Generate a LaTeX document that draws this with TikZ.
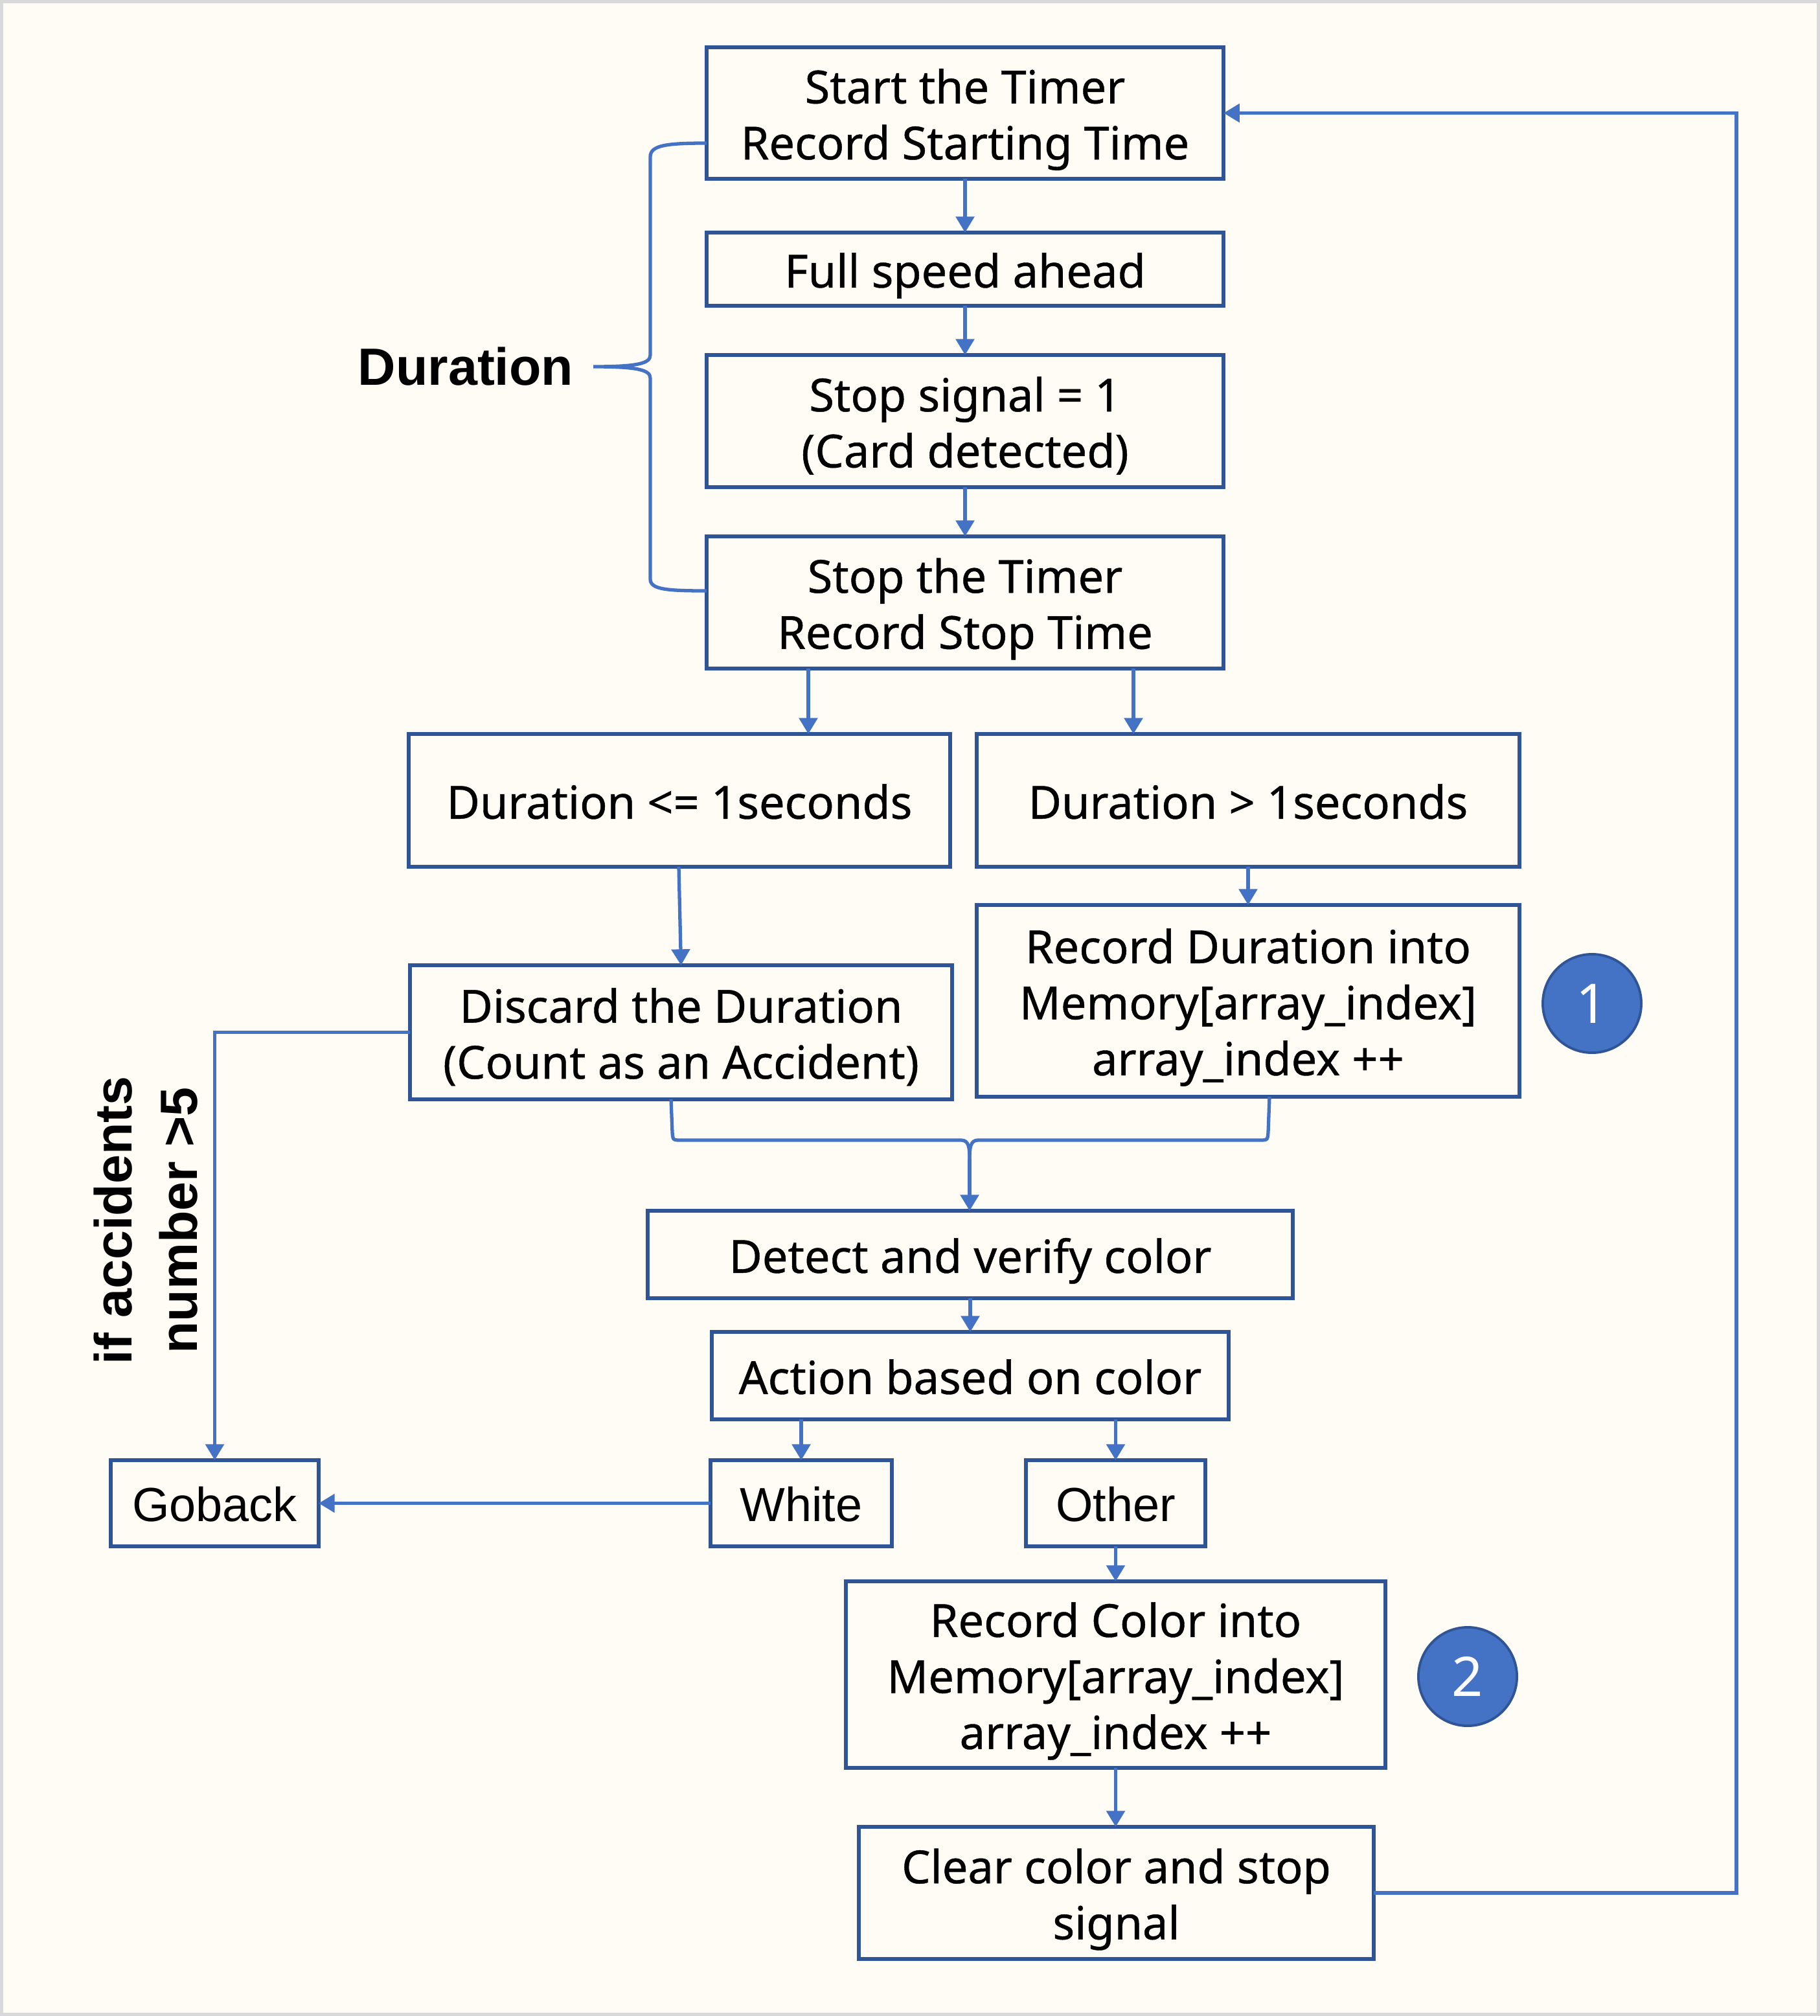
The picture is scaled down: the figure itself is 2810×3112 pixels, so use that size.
\documentclass[tikz,border=0pt]{standalone}
\usepackage{fontspec}
\setmainfont{Noto Sans}
\newfontfamily\boxfont{Noto Sans}[FakeBold=0.6]
\newfontfamily\arialfont{Liberation Sans}
\usetikzlibrary{arrows.meta,calc}
\definecolor{boxblue}{HTML}{2F5597}
\definecolor{linkblue}{HTML}{4472C4}
\definecolor{bgcream}{HTML}{FFFCF5}
\definecolor{framegray}{HTML}{D9D9D9}
\newcommand\tstr{\rule{0pt}{23.5pt}}
\newcommand\bstr{\rule[-7.4pt]{0pt}{7.4pt}}
\begin{document}
\begin{tikzpicture}[x=0.01cm,y=-0.01cm,
  stepbox/.style={draw=boxblue,line width=1.8pt,fill=bgcream,inner sep=0pt,outer sep=0pt,align=center,font=\boxfont\fontsize{20}{24.6}\selectfont},
  arbox/.style={stepbox,font=\arialfont\fontsize{21}{25}\selectfont},
  link/.style={draw=linkblue,line width=1.5pt},
  arrowlink/.style={link,-{Triangle[width=8pt,length=7pt]}},
  badge/.style={circle,draw=boxblue,line width=1.1pt,fill=linkblue,text=white,minimum size=1.52cm,inner sep=0pt,font=\fontsize{24}{24}\selectfont}]
\fill[framegray] (0,0) rectangle (2810,3112);
\fill[bgcream] (5,5) rectangle (2805,3107);
\useasboundingbox (0,0) rectangle (2810,3112);

% boxes
\node[stepbox,minimum width=7.98cm,minimum height=2.03cm] (start) at (1490,174.5) {\tstr Start the Timer\\Record Starting Time\bstr};
\node[stepbox,minimum width=7.98cm,minimum height=1.13cm] (full) at (1490,415.5) {\tstr Full speed ahead\bstr};
\node[stepbox,minimum width=7.98cm,minimum height=2.04cm] (stopsig) at (1490,650) {\tstr Stop signal = 1\\(Card detected)\bstr};
\node[stepbox,minimum width=7.98cm,minimum height=2.04cm] (stoptimer) at (1490,930) {\tstr Stop the Timer\\Record Stop Time\bstr};
\node[stepbox,minimum width=8.36cm,minimum height=2.05cm] (le) at (1049,1235.5) {\tstr Duration <= 1seconds\bstr};
\node[stepbox,minimum width=8.38cm,minimum height=2.05cm] (gt) at (1927,1235.5) {\tstr Duration > 1seconds\bstr};
\node[stepbox,minimum width=8.38cm,minimum height=2.96cm] (recdur) at (1927,1545) {\tstr Record Duration into\\Memory[array\_index]\\array\_index ++\bstr};
\node[stepbox,minimum width=8.37cm,minimum height=2.07cm] (discard) at (1051.5,1593.5) {\tstr Discard the Duration\\(Count as an Accident)\bstr};
\node[stepbox,minimum width=9.96cm,minimum height=1.35cm] (detect) at (1498,1936.5) {\tstr Detect and verify color\bstr};
\node[stepbox,minimum width=7.98cm,minimum height=1.35cm] (action) at (1498,2123.5) {\tstr Action based on color\bstr};
\node[arbox,minimum width=3.21cm,minimum height=1.33cm] (goback) at (331.5,2320.5) {\tstr Goback\bstr};
\node[arbox,minimum width=2.80cm,minimum height=1.33cm] (white) at (1237,2320.5) {\tstr White\bstr};
\node[arbox,minimum width=2.77cm,minimum height=1.33cm] (other) at (1722.5,2320.5) {\tstr Other\bstr};
\node[stepbox,minimum width=8.33cm,minimum height=2.88cm] (reccol) at (1722.5,2585) {\tstr Record Color into\\Memory[array\_index]\\array\_index ++\bstr};
\node[stepbox,minimum width=7.95cm,minimum height=2.04cm] (clear) at (1723.5,2922) {\tstr Clear color and stop\\signal\bstr};

% badges
\node[badge] (b1) at (2458,1549) {1};
\node[badge] (b2) at (2266,2588) {2};

% labels
\node[font=\arialfont\bfseries\fontsize{23}{23}\selectfont,inner sep=0pt] (durlbl) at (719,566) {Duration};
\node[rotate=90,align=center,inner sep=0pt,font=\arialfont\bfseries\fontsize{23}{28.5}\selectfont] (acc) at (225,1884) {if accidents\\number >5};

% brace
\coordinate (bt) at (916,566);
\draw[link] ($(start.west)+(0,46.5)$) .. controls (1030,221) and (1004,224) .. (1004,242) -- (1004,548) .. controls (1004,561) and (985,566) .. (bt) .. controls (985,566) and (1004,571) .. (1004,584) -- (1004,894) .. controls (1004,910) and (1030,912) .. ($(stoptimer.west)+(0,-18)$);

% main chain
\draw[arrowlink] (start) -- (full);
\draw[arrowlink] (full) -- (stopsig);
\draw[arrowlink] (stopsig) -- (stoptimer);
\draw[arrowlink] ($(stoptimer.south)+(-242,0)$) coordinate (sa) -- (sa |- le.north);
\draw[arrowlink] ($(stoptimer.south)+(260,0)$) coordinate (sb) -- (sb |- gt.north);
\draw[arrowlink] ($(le.south)+(-1,0)$) -- (discard.north);
\draw[arrowlink] (gt) -- (recdur);
\draw[arrowlink] (discard.west) -| (goback.north);

% merge
\coordinate (mj) at (1497,1790);
\draw[link] ($(discard.south)+(-15.5,0)$) -- (1038,1748) .. controls (1039,1760) .. (1052,1760) -- (1484,1760) .. controls (1496,1760) and (1497,1772) .. (mj);
\draw[link] ($(recdur.south)+(33,0)$) -- (1958,1748) .. controls (1957,1760) .. (1944,1760) -- (1510,1760) .. controls (1498,1760) and (1497,1772) .. (mj);
\draw[arrowlink] (mj) -- (detect.north -| mj);

\draw[arrowlink] (detect) -- (action);
\draw[arrowlink] (action.south -| white.north) -- (white.north);
\draw[arrowlink] (action.south -| other.north) -- (other.north);
\draw[arrowlink] (white.west) -- (goback.east);
\draw[arrowlink] (other) -- (reccol);
\draw[arrowlink] (reccol.south) -- (reccol.south |- clear.north);

% loop back
\coordinate (rr) at (2681,2922);
\draw[arrowlink] (clear.east) -- (rr) |- (start.east);
\end{tikzpicture}
\end{document}
